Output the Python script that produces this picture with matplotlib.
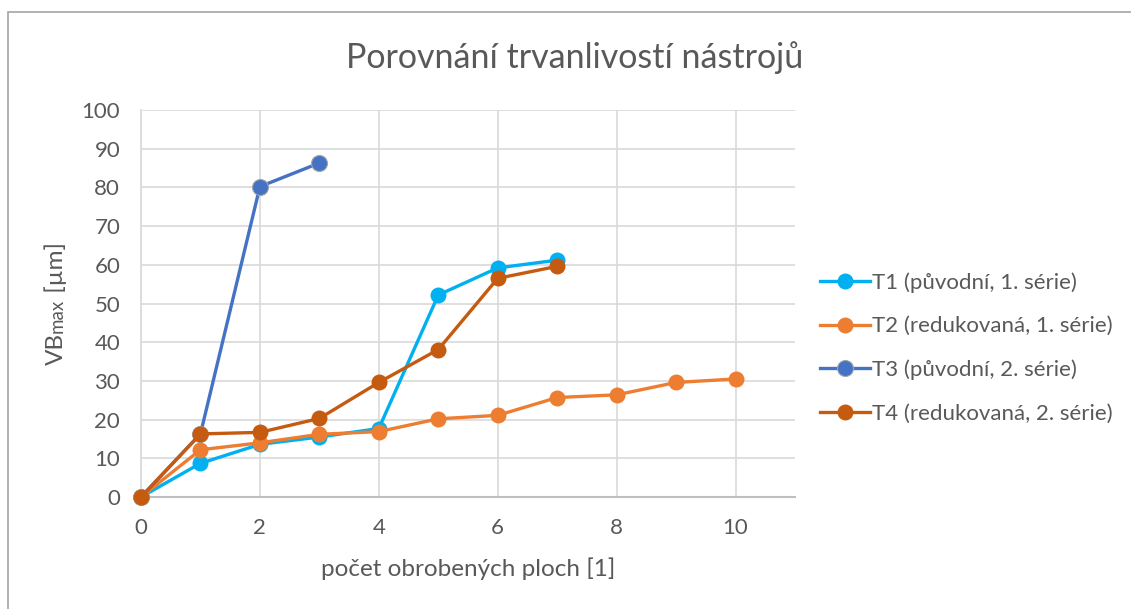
import matplotlib.pyplot as plt
from matplotlib.patches import Rectangle

# naměřené opotřebení VBmax [um] po jednotlivých plochách
x_t1 = [0, 1, 2, 3, 4, 5, 6, 7]
vb_t1 = [0, 8.7, 13.6, 15.5, 17.7, 52.2, 59.2, 61.2]

x_t2 = [0, 1, 2, 3, 4, 5, 6, 7, 8, 9, 10]
vb_t2 = [0, 12.2, 14.0, 16.2, 16.9, 20.2, 21.1, 25.7, 26.4, 29.6, 30.5]

x_t3 = [0, 1, 2, 3]
vb_t3 = [0, 16.3, 80.2, 86.3]

x_t4 = [0, 1, 2, 3, 4, 5, 6, 7]
vb_t4 = [0, 16.3, 16.7, 20.3, 29.6, 38.1, 56.5, 59.6]

labels = ["T1 (původní, 1. série)", "T2 (redukovaná, 1. série)",
          "T3 (původní, 2. série)", "T4 (redukovaná, 2. série)"]
colors = ["#00B0F0", "#ED7D31", "#4472C4", "#C55A11"]

plt.rcParams['font.family'] = ['Lato', 'DejaVu Sans']
txt = "#595959"

fig = plt.figure(figsize=(11.31, 6.09), dpi=100)
ax = fig.add_axes([141/1131, 1 - 497/609, 654/1131, 387/609])

series = [(x_t1, vb_t1), (x_t2, vb_t2), (x_t3, vb_t3), (x_t4, vb_t4)]
for i, (xs, ys) in enumerate(series):
    edge = "#A5A5A5" if i == 2 else colors[i]
    ax.plot(xs, ys, color=colors[i], lw=2.4, marker='o', markersize=11.5,
            markerfacecolor=colors[i], markeredgecolor=edge,
            markeredgewidth=0.8 if i == 2 else 0, label=labels[i],
            clip_on=False, zorder=3 + i)

ax.set_xlim(0, 11)
ax.set_ylim(0, 100)
ax.set_xticks(range(0, 11, 2))
ax.set_yticks(range(0, 101, 10))
ax.grid(True, color="#D9D9D9", lw=1.2)
ax.set_axisbelow(True)
for s in ['top', 'right']:
    ax.spines[s].set_visible(False)
ax.spines['left'].set_color("#D9D9D9")
ax.spines['left'].set_linewidth(1.2)
ax.spines['bottom'].set_color("#BFBFBF")
ax.spines['bottom'].set_linewidth(1.5)
ax.tick_params(length=0, labelsize=16, labelcolor=txt, pad=15)

ax.set_xlabel("počet obrobených ploch [1]", fontsize=17.5, color=txt, labelpad=14)

# popisek osy y: "max" menším písmem na stejné účaří
fig.canvas.draw()
r = fig.canvas.get_renderer()
yb = 63 / 1131
t_vb = fig.text(yb, 0, "VB", fontsize=17.5, color=txt, rotation=90,
                rotation_mode='anchor', ha='left', va='baseline')
t_max = fig.text(yb, 0, "max", fontsize=13.5, color=txt, rotation=90,
                 rotation_mode='anchor', ha='left', va='baseline')
t_um = fig.text(yb, 0, " [µm]", fontsize=17.5, color=txt, rotation=90,
                rotation_mode='anchor', ha='left', va='baseline')
h1 = t_vb.get_window_extent(r).height
h2 = t_max.get_window_extent(r).height
h3 = t_um.get_window_extent(r).height
total = h1 + h2 + h3
y0 = (609 - 303.5) - total / 2
t_vb.set_y(y0 / 609)
t_max.set_y((y0 + h1) / 609)
t_um.set_y((y0 + h1 + h2) / 609)

fig.text(0.508, 1 - 58/609, "Porovnání trvanlivostí nástrojů", fontsize=24.5,
         color=txt, ha='center', va='center')

ax.legend(loc='center left', bbox_to_anchor=(811/1131, 1 - 348/609),
          bbox_transform=fig.transFigure, frameon=False, fontsize=16,
          labelcolor=txt, handlelength=2.25, handletextpad=0.1,
          labelspacing=1.05, borderaxespad=0)

# rámeček grafu
fig.patches.append(Rectangle((8/1131, -0.05), 1.2, 1 - 12/609 + 0.05,
                             transform=fig.transFigure, fill=False,
                             edgecolor="#A6A6A6", lw=1.2))

fig.savefig("out.png", dpi=100)
